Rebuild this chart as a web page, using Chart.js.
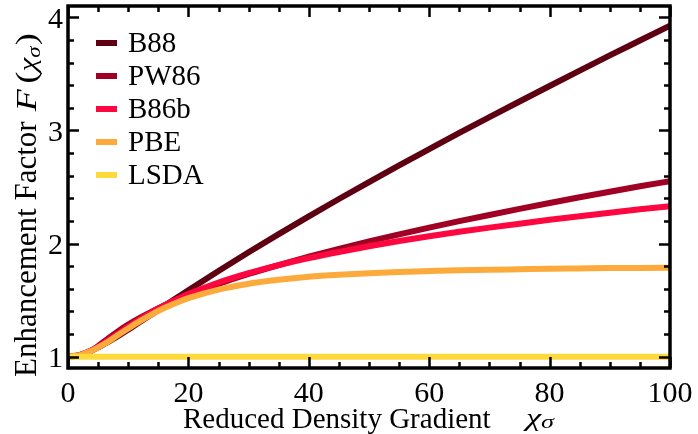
<!DOCTYPE html>
<html>
<head>
<meta charset="utf-8">
<script src="https://cdn.jsdelivr.net/npm/chart.js@4.4.1/dist/chart.umd.min.js"></script>
<style>
  html, body { margin: 0; padding: 0; background: #fff; }
  canvas { display: block; }
</style>
</head>
<body>
<canvas id="myChart" width="698" height="434"></canvas>
<script>
// reduced density gradient values where each curve is sampled
var xs = [0, 2, 4, 6, 8, 10, 12, 14, 16, 18, 20, 25, 30, 35, 40, 45, 50, 55, 60, 65, 70, 75, 80, 85, 90, 95, 100]

// enhancement factor of each functional
var b88  = [1.000, 1.016, 1.055, 1.110, 1.172, 1.239, 1.308, 1.378, 1.448, 1.518, 1.588, 1.758, 1.923, 2.084, 2.241, 2.394, 2.544, 2.691, 2.835, 2.978, 3.118, 3.256, 3.393, 3.529, 3.663, 3.795, 3.927]
var pw86 = [1.000, 1.009, 1.058, 1.135, 1.213, 1.283, 1.345, 1.401, 1.452, 1.500, 1.544, 1.643, 1.731, 1.810, 1.884, 1.953, 2.019, 2.081, 2.141, 2.198, 2.253, 2.307, 2.359, 2.409, 2.458, 2.506, 2.552]
var b86b = [1.000, 1.016, 1.059, 1.121, 1.192, 1.264, 1.332, 1.396, 1.454, 1.506, 1.554, 1.656, 1.739, 1.810, 1.872, 1.926, 1.976, 2.022, 2.064, 2.104, 2.141, 2.176, 2.210, 2.242, 2.273, 2.303, 2.331]
var pbe  = [1.000, 1.014, 1.054, 1.112, 1.180, 1.249, 1.316, 1.377, 1.430, 1.477, 1.517, 1.593, 1.645, 1.680, 1.706, 1.724, 1.738, 1.749, 1.757, 1.764, 1.769, 1.773, 1.777, 1.780, 1.783, 1.785, 1.787]
var lsda = [1, 1, 1, 1, 1, 1, 1, 1, 1, 1, 1, 1, 1, 1, 1, 1, 1, 1, 1, 1, 1, 1, 1, 1, 1, 1, 1]

var names  = ["B88", "PW86", "B86b", "PBE", "LSDA"]
var values = [b88, pw86, b86b, pbe, lsda]
var colors = ["#5e0012", "#a10025", "#fd0740", "#fdaa3c", "#fdd93c"]

var xTicks = [0, 20, 40, 60, 80, 100]
var yTicks = [1, 2, 3, 4]

var serif = "'Liberation Serif', 'Times New Roman', serif"
Chart.defaults.font.family = serif

function points(ys) {
    return xs.map(function (x, i) { return { x: x, y: ys[i] } })
}

var datasets = []
names.forEach(function (name, i) {
    datasets.push({
        label: name,
        data: points(values[i]),
        borderColor: colors[i],
        backgroundColor: colors[i],
        borderWidth: 6,
        pointRadius: 0,
        cubicInterpolationMode: 'monotone',
        borderCapStyle: 'butt',
        order: names.length - i   // later functionals sit on top
    })
})

// draw a run of [text, font, dy, gap] pieces, squeezed to a given width
function mathText(ctx, parts, x, y, width) {
    var total = 0
    parts.forEach(function (p) { ctx.font = p[1]; total += ctx.measureText(p[0]).width + p[3] })
    ctx.save()
    ctx.translate(x, y)
    ctx.scale(width / total, 1)
    var cx = 0
    parts.forEach(function (p) {
        ctx.font = p[1]
        ctx.fillText(p[0], cx, p[2])
        cx += ctx.measureText(p[0]).width + p[3]
    })
    ctx.restore()
}

// box frame with inward ticks, tick labels, legend and axis titles
var decor = {
    id: 'decor',
    afterDraw: function (chart) {
        var ctx = chart.ctx, a = chart.chartArea
        var sx = chart.scales.x, sy = chart.scales.y
        ctx.save()
        ctx.strokeStyle = '#000'
        ctx.lineWidth = 2.5
        ctx.beginPath()
        for (var v = 0; v <= 100; v += 5) {
            var px = Math.round(sx.getPixelForValue(v)) + 0.5
            var len = v % 20 == 0 ? 11 : 6
            ctx.moveTo(px, a.bottom); ctx.lineTo(px, a.bottom - len)
            ctx.moveTo(px, a.top); ctx.lineTo(px, a.top + len)
        }
        for (var k = 5; k <= 20; k++) {
            var py = Math.round(sy.getPixelForValue(k * 0.2)) + 0.5
            var len = k % 5 == 0 ? 11 : 6
            ctx.moveTo(a.left, py); ctx.lineTo(a.left + len, py)
            ctx.moveTo(a.right, py); ctx.lineTo(a.right - len, py)
        }
        ctx.stroke()
        ctx.lineWidth = 3.5
        ctx.strokeRect(a.left, a.top, a.right - a.left, a.bottom - a.top)

        // tick labels
        ctx.fillStyle = '#000'
        ctx.font = "30px " + serif
        ctx.textBaseline = 'alphabetic'
        ctx.textAlign = 'center'
        xTicks.forEach(function (v) {
            ctx.fillText(String(v), sx.getPixelForValue(v), a.bottom + 34)
        })
        ctx.textAlign = 'right'
        yTicks.forEach(function (v) {
            ctx.fillText(String(v), a.left - 5, sy.getPixelForValue(v) + 10.5)
        })

        // legend
        ctx.font = "29px " + serif
        ctx.textBaseline = 'middle'
        ctx.textAlign = 'left'
        names.forEach(function (name, i) {
            var y = 43 + i * 33
            ctx.strokeStyle = colors[i]
            ctx.lineWidth = 6
            ctx.beginPath(); ctx.moveTo(96, y); ctx.lineTo(117, y); ctx.stroke()
            ctx.fillText(name, 128, y + 1)
        })

        // y axis title
        ctx.textBaseline = 'alphabetic'
        ctx.save()
        ctx.translate(36, 377)
        ctx.rotate(-Math.PI / 2)
        ctx.font = "31px " + serif
        ctx.fillText("Enhancement Factor", 0, 0)
        var fx = ctx.measureText("Enhancement Factor").width + 10
        mathText(ctx, [
            ["F", "italic 30px " + serif, 0, 5],
            ["(", "30px " + serif, 0, 0],
            ["\u03c7", "italic 26px " + serif, 0, 0],
            ["\u03c3", "italic 19px " + serif, 4, 1],
            [")", "30px " + serif, 0, 0]
        ], fx, 0, 78)
        ctx.restore()

        // x axis title
        ctx.font = "29px " + serif
        ctx.fillText("Reduced Density Gradient", 183, 428)
        mathText(ctx, [
            ["\u03c7", "italic 25px " + serif, 0, 0],
            ["\u03c3", "italic 19px " + serif, 2, 0]
        ], 526, 426, 28)
        ctx.restore()
    }
}

var myChart = document.getElementById("myChart").getContext('2d')
var chart = new Chart(myChart, {
    type: 'line',
    data: { datasets: datasets },
    options: {
        responsive: false,
        animation: false,
        devicePixelRatio: 1,
        layout: { padding: { top: 6, right: 28, left: 0, bottom: 0 } },
        plugins: { legend: { display: false }, tooltip: { enabled: false } },
        scales: {
            x: {
                type: 'linear',
                min: 0, max: 100,
                afterFit: function (s) { s.height = 66; s.paddingLeft = 0; s.paddingRight = 0 },
                afterBuildTicks: function (s) { s.ticks = xTicks.map(function (v) { return { value: v } }) },
                grid: { display: false, drawTicks: false },
                border: { display: false },
                ticks: { display: false }
            },
            y: {
                min: 0.9, max: 4.1,
                afterFit: function (s) { s.width = 68; s.paddingTop = 0; s.paddingBottom = 0 },
                afterBuildTicks: function (s) { s.ticks = yTicks.map(function (v) { return { value: v } }) },
                grid: { display: false, drawTicks: false },
                border: { display: false },
                ticks: { display: false }
            }
        }
    },
    plugins: [decor]
})
</script>
</body>
</html>
